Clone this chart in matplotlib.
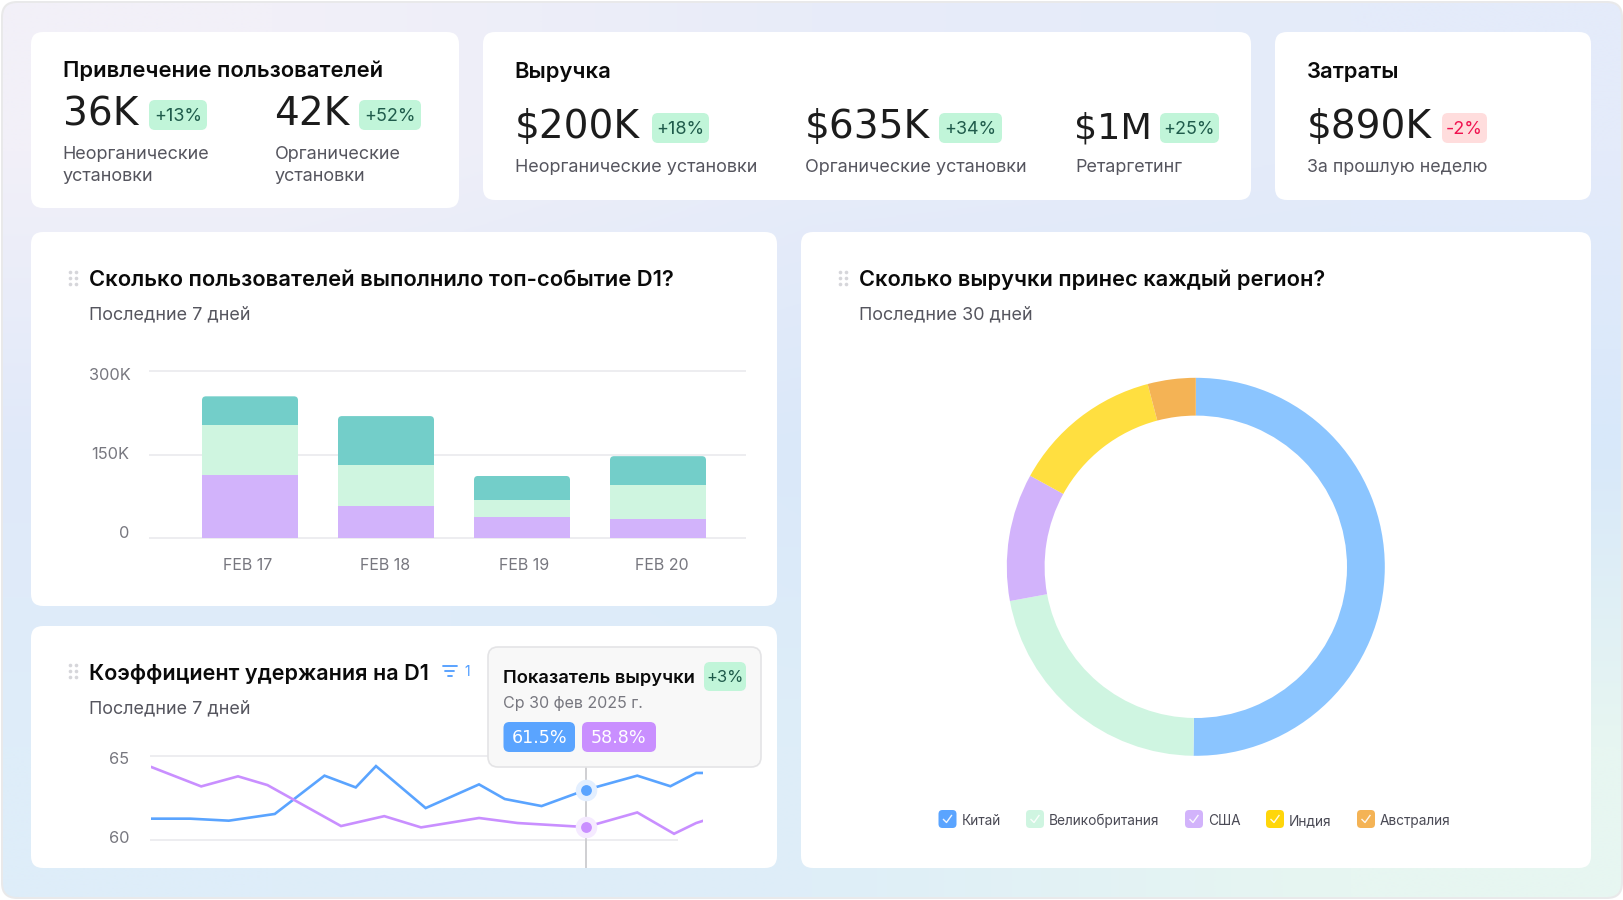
import numpy as np
import matplotlib
matplotlib.use('Agg')
import matplotlib.pyplot as plt
from matplotlib.patches import FancyBboxPatch
from matplotlib.transforms import IdentityTransform

plt.rcParams['font.family'] = ['Inter', 'DejaVu Sans']

W, H = 1624, 900

# bar chart, thousands of users
days = ['FEB 17', 'FEB 18', 'FEB 19', 'FEB 20']
bar_purple = [114, 57, 37, 33.5]
bar_green = [89, 75, 32, 62]
bar_teal = [51.5, 87, 42.5, 51.5]
bar_ticks = [0, 150, 300]
bar_tick_labels = ['0', '150K', '300K']

# retention lines, sampled over a 30 day span
blue_t = [0, 2.1, 4.2, 6.7, 9.4, 11.1, 12.2, 14.9, 17.8, 19.2, 21.2, 23.6, 26.4, 28.2, 29.6, 30]
blue_v = [61.27, 61.27, 61.15, 61.55, 63.83, 63.13, 64.4, 61.9, 63.31, 62.44, 62.02, 62.98, 63.83, 63.2, 63.99, 63.99]
purple_t = [0, 2.7, 4.7, 6.3, 10.3, 12.65, 14.65, 17.8, 19.9, 23.6, 26.4, 28.4, 29.6, 30]
purple_v = [64.34, 63.19, 63.79, 63.27, 60.83, 61.42, 60.75, 61.31, 61.01, 60.77, 61.64, 60.37, 61.01, 61.15]
line_ticks = [60, 65]
hover_t = 23.6
hover_blue = 61.5
hover_purple = 58.8

# revenue share by region, percent
regions = ['Китай', 'Великобритания', 'США', 'Индия', 'Австралия']
region_share = [50.2, 21.9, 10.9, 12.9, 4.1]

C_BLUE = '#5AA4FF'
C_PURPLE = '#C98FFF'
C_BAR_PURPLE = '#D2B3FB'
C_BAR_GREEN = '#CFF5E0'
C_BAR_TEAL = '#73CEC9'
C_GRID = '#EDEDF0'
C_TICK = '#77777F'
C_SUB = '#55555E'
C_DARK = '#1C1C1C'
DONUT = ['#8BC5FF', '#CFF5E1', '#D2B3FB', '#FFDF40', '#F4B355']
LEGEND = ['#5AA4FF', '#CFF5E1', '#D2B3FB', '#FFD60A', '#F4B355']
NUM_FONT = 'DejaVu Sans'


def pt(px):
    return px * 0.72


def add_axes_px(fig, x0, y0, x1, y1):
    """Axes placed by pixel box, y counted from the top of the figure"""
    return fig.add_axes([x0 / W, 1 - y1 / H, (x1 - x0) / W, (y1 - y0) / H])


def box(ax, x0, y0, x1, y1, r=12, fc='white', ec='none', lw=0, z=2):
    p = FancyBboxPatch((x0, y0), x1 - x0, y1 - y0, boxstyle='round,pad=0,rounding_size=%g' % r,
                       fc=fc, ec=ec, lw=lw, zorder=z)
    ax.add_patch(p)
    return p


def label(ax, x, y, s, size, color=C_DARK, weight='normal', ha='left', va='baseline', z=5, family=None):
    kw = {'family': family} if family else {}
    return ax.text(x, y, s, fontsize=pt(size), color=color, fontweight=weight, ha=ha, va=va, zorder=z, **kw)


def badge(ax, x0, y0, x1, y1, s, fc='#C1F5D9', color='#1F5B4B', size=18, z=5):
    box(ax, x0, y0, x1, y1, r=6, fc=fc, z=z)
    label(ax, (x0 + x1) / 2, (y0 + y1) / 2 + 1.5, s, size, color=color, ha='center', va='center', z=z + 1)


def handle(ax, x, y):
    for dx in (0, 6.5):
        for dy in (0, 6, 12):
            ax.plot(x + dx, y + dy, 'o', ms=2.6, color='#D6D6DA', mew=0, zorder=5)


fig = plt.figure(figsize=(W / 100, H / 100), dpi=100, facecolor='white')

bg = add_axes_px(fig, 0, 0, W, H)
bg.set_xlim(0, W)
bg.set_ylim(H, 0)
bg.axis('off')

frame = box(bg, 1, 1, W - 1, H - 1, r=16, fc='#E9E9EA', z=0)
grad = np.array([[[242, 240, 248], [232, 236, 249], [228, 235, 250]],
                 [[224, 233, 250], [218, 232, 250], [216, 232, 250]],
                 [[222, 237, 249], [222, 238, 248], [231, 246, 241]]], dtype=float) / 255
im = bg.imshow(grad, extent=(3, W - 3, 897, 3), interpolation='bilinear', aspect='auto', zorder=1)
im.set_clip_path(box(bg, 3, 3, W - 3, 897, r=14, fc='none', z=0))
bg.set_xlim(0, W)
bg.set_ylim(H, 0)

# cards
box(bg, 31, 32, 459, 208)
box(bg, 483, 32, 1251, 200)
box(bg, 1275, 32, 1591, 200)
box(bg, 31, 232, 777, 606)
box(bg, 801, 232, 1591, 868)
box(bg, 31, 626, 777, 868)

# top row
label(bg, 63, 77, 'Привлечение пользователей', 22, color='#0A0A0A', weight=600)
label(bg, 62.5, 125, '36K', 39, family=NUM_FONT)
badge(bg, 149, 100, 207, 130, '+13%')
label(bg, 62.5, 159, 'Неорганические', 18, color=C_SUB)
label(bg, 62.5, 181, 'установки', 18, color=C_SUB)
label(bg, 274.5, 125, '42K', 39, family=NUM_FONT)
badge(bg, 359, 100, 421, 130, '+52%')
label(bg, 275, 159, 'Органические', 18, color=C_SUB)
label(bg, 275, 181, 'установки', 18, color=C_SUB)

label(bg, 514.5, 78, 'Выручка', 22, color='#0A0A0A', weight=600)
label(bg, 514.5, 138, '$200K', 39, family=NUM_FONT)
badge(bg, 652, 113, 709, 143, '+18%')
label(bg, 515, 172, 'Неорганические установки', 18, color=C_SUB)
label(bg, 804.5, 138, '$635K', 39, family=NUM_FONT)
badge(bg, 939, 113, 1002, 143, '+34%')
label(bg, 805, 172, 'Органические установки', 18, color=C_SUB)
label(bg, 1074.5, 138, '$1M', 36.5, family=NUM_FONT)
badge(bg, 1160, 113, 1219, 143, '+25%')
label(bg, 1075, 172, 'Ретаргетинг', 18, color=C_SUB)

label(bg, 1307, 78, 'Затраты', 22, color='#0A0A0A', weight=600)
label(bg, 1306.5, 138, '$890K', 39, family=NUM_FONT)
badge(bg, 1442, 113, 1487, 143, '-2%', fc='#FFDDDD', color='#F0124F')
label(bg, 1307, 172, 'За прошлую неделю', 17.8, color=C_SUB)

# chart headers
label(bg, 89.5, 286, 'Сколько пользователей выполнило топ-событие D1?', 22, color='#0A0A0A', weight=600)
label(bg, 89.5, 319, 'Последние 7 дней', 18, color=C_SUB)
handle(bg, 70, 272)
label(bg, 859, 286, 'Сколько выручки принес каждый регион?', 21.8, color='#0A0A0A', weight=600)
label(bg, 859, 319, 'Последние 30 дней', 18, color=C_SUB)
handle(bg, 840, 272)
label(bg, 89.5, 680, 'Коэффициент удержания на D1', 21.6, color='#0A0A0A', weight=600)
label(bg, 89.5, 713, 'Последние 7 дней', 18, color=C_SUB)
handle(bg, 70, 665)

# filter icon next to the retention title
for y, x0, x1 in [(666, 443, 457), (671, 445.5, 454.5), (676, 448, 452)]:
    bg.plot([x0, x1], [y, y], color='#4D9CFF', lw=1.3, zorder=5, solid_capstyle='round')
label(bg, 467, 676, '1', 14, color='#4D9CFF', ha='center')

# stacked bars
ax = add_axes_px(fig, 150, 371, 745, 538)
ax.patch.set_alpha(0)
x = np.arange(len(days))
ax.set_xlim((150 - 250) / 136, (745 - 250) / 136)
ax.set_ylim(0, 300)
for v in bar_ticks:
    ax.axhline(v, color=C_GRID, lw=1.4, zorder=1, clip_on=False)
bottom = np.zeros(len(days))
tops = None
for vals, col in [(bar_purple, C_BAR_PURPLE), (bar_green, C_BAR_GREEN), (bar_teal, C_BAR_TEAL)]:
    tops = ax.bar(x, vals, 0.706, bottom=bottom, color=col, zorder=3)
    bottom += np.array(vals)
ax.set_xticks([])
ax.set_yticks([])
for s in ax.spines.values():
    s.set_visible(False)
for v, s, dy, off in zip(bar_ticks, bar_tick_labels, [4.5, 0, -5], [-21, -21, -19]):
    ax.annotate(s, (0, v), xycoords=ax.get_yaxis_transform(), xytext=(off, dy),
                textcoords='offset pixels', ha='right', va='center', fontsize=pt(16.4), color=C_TICK)
for i, (d, dx) in enumerate(zip(days, [-2, -1, 2, 4])):
    ax.annotate(d, (i, 0), xytext=(dx, -28), textcoords='offset pixels', ha='center', va='center',
                fontsize=pt(16), color=C_TICK)

# rounded top corners on the last stack
fig.canvas.draw()
for rect in tops:
    e = rect.get_window_extent()
    clip = FancyBboxPatch((e.x0, e.y0 - 10), e.width, e.height + 10, boxstyle='round,pad=0,rounding_size=4',
                          transform=IdentityTransform())
    rect.set_clip_path(clip)

# retention lines, running under the hover card
lx = add_axes_px(fig, 151.5, 756, 703.5, 868)
lx.patch.set_alpha(0)
lx.set_xlim(0, 30)
y_per_unit = (840 - 756) / 5
lx.set_ylim(60 - (868 - 840) / y_per_unit, 65)
lx.hlines(65, -0.1, 30 + (745 - 704) / 18.4, color=C_GRID, lw=1.4, clip_on=False, zorder=1)
lx.hlines(60, -0.1, 28.6, color=C_GRID, lw=1.4, clip_on=False, zorder=1)
lx.axvline(hover_t, color='#CFCFD2', lw=1.4, zorder=2)
lx.plot(blue_t, blue_v, color=C_BLUE, lw=1.9, zorder=3, solid_joinstyle='miter')
lx.plot(purple_t, purple_v, color=C_PURPLE, lw=1.9, zorder=3, solid_joinstyle='miter')
lx.set_xticks([])
lx.set_yticks([])
for s in lx.spines.values():
    s.set_visible(False)
for v, dy in zip(line_ticks, [2, -3]):
    lx.annotate(str(v), (0, v), xycoords=lx.get_yaxis_transform(), xytext=(-22, dy), textcoords='offset pixels',
                ha='right', va='center', fontsize=pt(16.4), color=C_TICK, annotation_clip=False)

# hover dots use the revenue index scale, which has no ticks of its own
rx = lx.twinx()
rx.set_ylim(61.5 - (868 - 790.3) / 13.7, 61.5 + (790.3 - 756) / 13.7)
rx.axis('off')
for v, col, halo in [(hover_blue, C_BLUE, '#E3EFFF'), (hover_purple, C_PURPLE, '#F5EAFF')]:
    rx.plot(hover_t, v, 'o', ms=15.5, color=halo, mew=0, zorder=4)
    rx.plot(hover_t, v, 'o', ms=7.8, color=col, mew=0, zorder=5)

# hover card
top = add_axes_px(fig, 0, 0, W, H)
top.set_xlim(0, W)
top.set_ylim(H, 0)
top.axis('off')
box(top, 488, 647, 761, 767, r=10, fc='#F8F8F8', ec='#E4E4E6', lw=1.2, z=2)
label(top, 503.5, 683, 'Показатель выручки', 18.4, color='#0A0A0A', weight=600)
badge(top, 704, 662, 746, 691, '+3%', size=16.5)
label(top, 503.5, 708, 'Ср 30 фев 2025 г.', 16, color='#77777F')
box(top, 503.5, 722, 575, 752, r=6, fc=C_BLUE, z=4)
box(top, 582, 722, 656, 752, r=6, fc=C_PURPLE, z=4)
label(top, 539.5, 738, '%.1f%%' % hover_blue, 17.5, color='white', ha='center', va='center', family=NUM_FONT)
label(top, 619, 738, '%.1f%%' % hover_purple, 17.5, color='white', ha='center', va='center', family=NUM_FONT)

# region donut
dx = add_axes_px(fig, 1195.8 - 192, 566.8 - 192, 1195.8 + 192, 566.8 + 192)
dx.pie(region_share, colors=DONUT, startangle=90, counterclock=False, radius=1,
       wedgeprops={'width': 0.2, 'edgecolor': 'none'})
dx.set_xlim(-192 / 189, 192 / 189)
dx.set_ylim(-192 / 189, 192 / 189)

# region checkboxes
for name, col, sx, tx in zip(regions, LEGEND, [938.5, 1026, 1185, 1266, 1357], [961.5, 1049, 1208, 1289, 1380]):
    box(top, sx, 810, sx + 18, 828, r=4, fc=col, z=4)
    top.plot([sx + 5, sx + 8, sx + 13], [819.5, 822.5, 815.5], color='white', lw=1.0, alpha=0.9, zorder=5)
    label(top, tx, 825, name, 13.7, color='#4A4A55')

fig.savefig('out.png', dpi=100, facecolor='white')
